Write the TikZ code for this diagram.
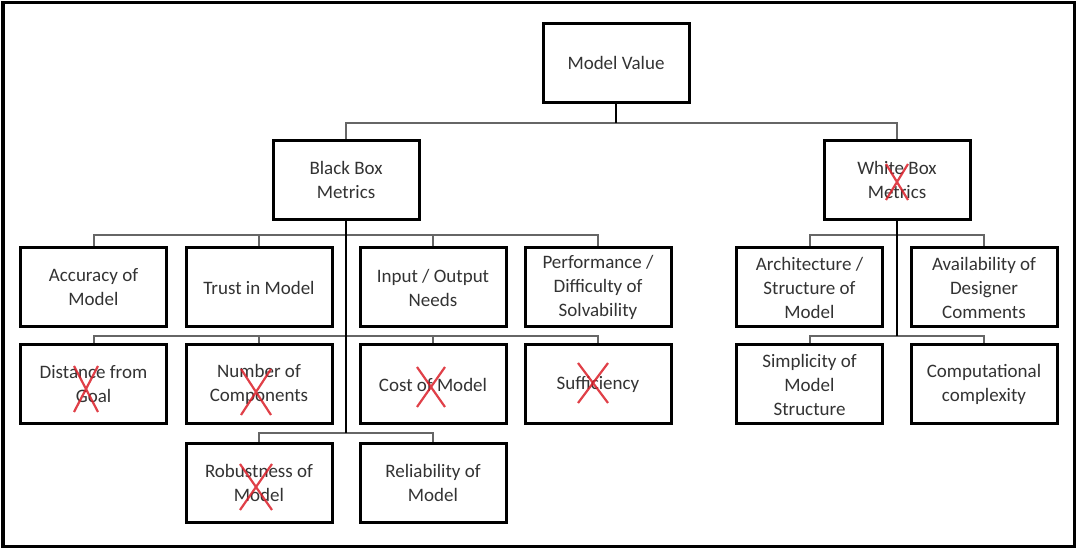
\documentclass[tikz,border=0pt]{standalone}
\usepackage{fontspec}
\setmainfont{Carlito}
\usepackage{xcolor}
\usepackage{tikz}
\usetikzlibrary{calc}
\definecolor{crossred}{rgb}{0.86, 0.12, 0.16}
\definecolor{textgray}{rgb}{0.2, 0.2, 0.2}

\begin{document}
\begin{tikzpicture}[x=0.5pt, y=-0.5pt,
	box/.style={draw=black, line width=1.5pt, fill=white, minimum width=73pt, minimum height=39.5pt, align=center, inner sep=2pt, text=textgray, font=\fontsize{9.5}{12}\selectfont},
	bus/.style={draw=black!60, line width=1pt},
	stem/.style={draw=black, line width=1.2pt},
	redx/.style={draw=crossred, line width=1.1pt, opacity=0.85}]
	\pgfmathsetmacro{\cola}{93.5}
	\pgfmathsetmacro{\colb}{259}
	\pgfmathsetmacro{\colc}{433}
	\pgfmathsetmacro{\cold}{598}
	\pgfmathsetmacro{\cole}{809.5}
	\pgfmathsetmacro{\colf}{984}
	\pgfmathsetmacro{\rowa}{287.5}
	\pgfmathsetmacro{\rowb}{384.5}
	\pgfmathsetmacro{\rowc}{483}
	\useasboundingbox (0,0) rectangle (1078,550);
	\draw[line width=1.6pt] (3,2.5) rectangle (1074.5,546.5);
	
	\node[box] (mv) at (616,63) {Model Value};
	\node[box] (bb) at (346,180) {Black Box\\Metrics};
	\node[box] (wb) at (897,180) {White Box\\Metrics};
	
	\node[box] (acc) at (\cola,\rowa) {Accuracy of\\Model};
	\node[box] (trust) at (\colb,\rowa) {Trust in Model};
	\node[box] (inout) at (\colc,\rowa) {Input / Output\\Needs};
	\node[box] (perf) at (\cold,\rowa) {Performance /\\Difficulty of\\Solvability};
	\node[box] (dist) at (\cola,\rowb) {Distance from\\Goal};
	\node[box] (numc) at (\colb,\rowb) {Number of\\Components};
	\node[box] (cost) at (\colc,\rowb) {Cost of Model};
	\node[box] (suff) at (\cold,\rowb) {Sufficiency};
	\node[box] (rob) at (\colb,\rowc) {Robustness of\\Model};
	\node[box] (rel) at (\colc,\rowc) {Reliability of\\Model};
	
	\node[box] (arch) at (\cole,\rowa) {Architecture /\\Structure of\\Model};
	\node[box] (avail) at (\colf,\rowa) {Availability of\\Designer\\Comments};
	\node[box] (simp) at (\cole,\rowb) {Simplicity of\\Model\\Structure};
	\node[box] (comp) at (\colf,\rowb) {Computational\\complexity};
	
	\coordinate (j0) at (616,123);
	\coordinate (j1) at (346,235);
	\coordinate (j2) at (346,336);
	\coordinate (j3) at (346,433);
	\coordinate (k1) at (897,235);
	\coordinate (k2) at (897,336);
	
	\draw[bus] (bb.north) |- (j0) -| (wb.north);
	\draw[bus] (acc.north) |- (j1) -| (perf.north);
	\draw[bus] (trust.north) |- (j1);
	\draw[bus] (inout.north) |- (j1);
	\draw[bus] (dist.north) |- (j2) -| (suff.north);
	\draw[bus] (numc.north) |- (j2);
	\draw[bus] (cost.north) |- (j2);
	\draw[bus] (rob.north) |- (j3) -| (rel.north);
	\draw[bus] (arch.north) |- (k1) -| (avail.north);
	\draw[bus] (simp.north) |- (k2) -| (comp.north);
	\draw[stem] (mv.south) -- (j0);
	\draw[stem] (bb.south) -- (j3);
	\draw[stem] (wb.south) -- (k2);
	
	\draw[redx, shift={(897,182)}] (-11,-18) -- (11,18) (11,-18) -- (-11,18);
	\draw[redx, shift={(86,389)}] (-12,-23) -- (12,23) (12,-23) -- (-12,23);
	\draw[redx, shift={(256,392)}] (-15,-23) -- (15,23) (15,-23) -- (-15,23);
	\draw[redx, shift={(431,387)}] (-14,-20) -- (14,20) (14,-20) -- (-14,20);
	\draw[redx, shift={(593,383)}] (-15,-20) -- (15,20) (15,-20) -- (-15,20);
	\draw[redx, shift={(256,487)}] (-16,-23) -- (16,23) (16,-23) -- (-16,23);
\end{tikzpicture}
\end{document}
